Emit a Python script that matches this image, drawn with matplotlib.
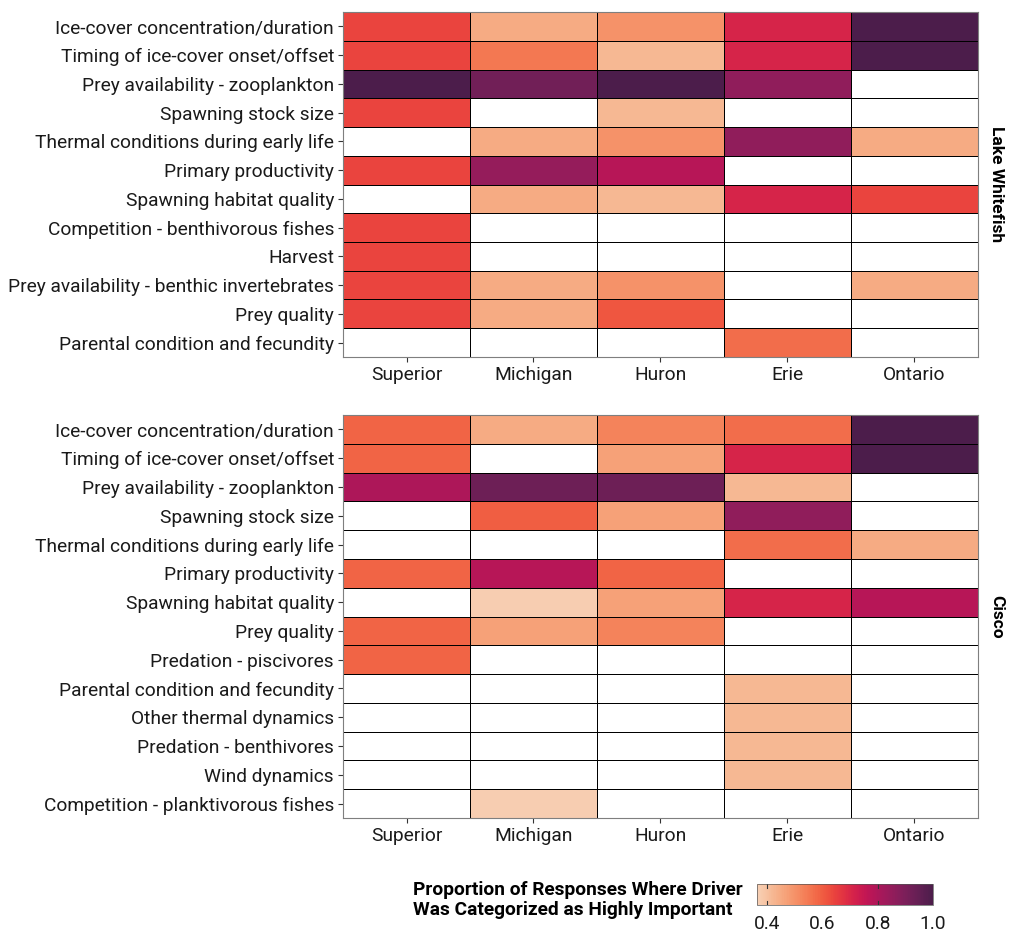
import numpy as np
import matplotlib
matplotlib.use("Agg")
import matplotlib.pyplot as plt
import seaborn as sns
from matplotlib.colors import ListedColormap

plt.rcParams['font.family'] = ['Roboto', 'DejaVu Sans']

lakes = ["Superior", "Michigan", "Huron", "Erie", "Ontario"]

# Lake Whitefish drivers (top to bottom)
wf_drivers = [
    "Ice-cover concentration/duration",
    "Timing of ice-cover onset/offset",
    "Prey availability - zooplankton",
    "Spawning stock size",
    "Thermal conditions during early life",
    "Primary productivity",
    "Spawning habitat quality",
    "Competition - benthivorous fishes",
    "Harvest",
    "Prey availability - benthic invertebrates",
    "Prey quality",
    "Parental condition and fecundity",
]
N = np.nan
wf_values = [
    [0.64, 0.45, 0.50, 0.71, 1.00],
    [0.64, 0.55, 0.42, 0.71, 1.00],
    [1.00, 0.92, 1.00, 0.86, N],
    [0.64, N, 0.42, N, N],
    [N, 0.45, 0.50, 0.86, 0.45],
    [0.64, 0.85, 0.78, N, N],
    [N, 0.45, 0.42, 0.71, 0.64],
    [0.64, N, N, N, N],
    [0.64, N, N, N, N],
    [0.64, 0.45, 0.50, N, 0.45],
    [0.64, 0.45, 0.61, N, N],
    [N, N, N, 0.57, N],
]

# Cisco drivers (top to bottom)
ci_drivers = [
    "Ice-cover concentration/duration",
    "Timing of ice-cover onset/offset",
    "Prey availability - zooplankton",
    "Spawning stock size",
    "Thermal conditions during early life",
    "Primary productivity",
    "Spawning habitat quality",
    "Prey quality",
    "Predation - piscivores",
    "Parental condition and fecundity",
    "Other thermal dynamics",
    "Predation - benthivores",
    "Wind dynamics",
    "Competition - planktivorous fishes",
]
ci_values = [
    [0.59, 0.45, 0.53, 0.57, 1.00],
    [0.59, N, 0.47, 0.71, 1.00],
    [0.80, 0.93, 0.93, 0.42, N],
    [N, 0.60, 0.47, 0.86, N],
    [N, N, N, 0.57, 0.45],
    [0.59, 0.78, 0.59, N, N],
    [N, 0.375, 0.47, 0.71, 0.78],
    [0.59, 0.47, 0.53, N, N],
    [0.59, N, N, N, N],
    [N, N, N, 0.42, N],
    [N, N, N, 0.42, N],
    [N, N, N, 0.42, N],
    [N, N, N, 0.42, N],
    [N, 0.375, N, N, N],
]

vmin, vmax = 0.364, 1.0
rocket = sns.color_palette("rocket", as_cmap=True)
cmap = ListedColormap(rocket(np.linspace(0.93, 0.2, 256)))
cmap.set_bad("white")

fig = plt.figure(figsize=(10.12, 9.32), dpi=100)
ax1 = fig.add_axes([0.339, 0.617, 0.627, 0.370])
ax2 = fig.add_axes([0.339, 0.1223, 0.627, 0.4324])


def panel(ax, drivers, values, title):
    data = np.ma.masked_invalid(np.array(values, dtype=float))
    mesh = ax.pcolormesh(data, cmap=cmap, vmin=vmin, vmax=vmax,
                         edgecolors="black", linewidth=0.6)
    ax.set_xlim(0, len(lakes))
    ax.set_ylim(len(drivers), 0)
    ax.set_xticks(np.arange(len(lakes)) + 0.5)
    ax.set_xticklabels(lakes, fontsize=13.8, color="#1a1a1a")
    ax.set_yticks(np.arange(len(drivers)) + 0.5)
    ax.set_yticklabels(drivers, fontsize=13.8, color="#1a1a1a")
    ax.tick_params(length=3.5, width=0.8, color="#333333", pad=3)
    for s in ax.spines.values():
        s.set_color("#7f7f7f")
        s.set_linewidth(0.8)
    ax.text(1.03, 0.5, title, transform=ax.transAxes, rotation=-90,
            ha="center", va="center", fontsize=12.5, fontweight="bold")
    return mesh


mesh = panel(ax1, wf_drivers, wf_values, "Lake Whitefish")
panel(ax2, ci_drivers, ci_values, "Cisco")

cax = fig.add_axes([0.748, 0.029, 0.174, 0.0225])
cb = fig.colorbar(mesh, cax=cax, orientation="horizontal")
cb.set_ticks([0.4, 0.6, 0.8, 1.0])
cb.ax.tick_params(labelsize=13.8, length=0, pad=7, labelcolor="#1a1a1a")
cb.outline.set_linewidth(0.5)
cb.outline.set_edgecolor("#555555")
for t in [0.4, 0.8]:
    cax.plot([t, t], [0, 0.2], color="#333333", lw=0.8, transform=cax.get_xaxis_transform())
    cax.plot([t, t], [0.8, 1], color="#333333", lw=0.8, transform=cax.get_xaxis_transform())

fig.text(0.408, 0.034, "Proportion of Responses Where Driver\nWas Categorized as Highly Important",
         ha="left", va="center", fontsize=13.8, fontweight="bold", linespacing=1.15)

fig.savefig("out.png", dpi=100)
